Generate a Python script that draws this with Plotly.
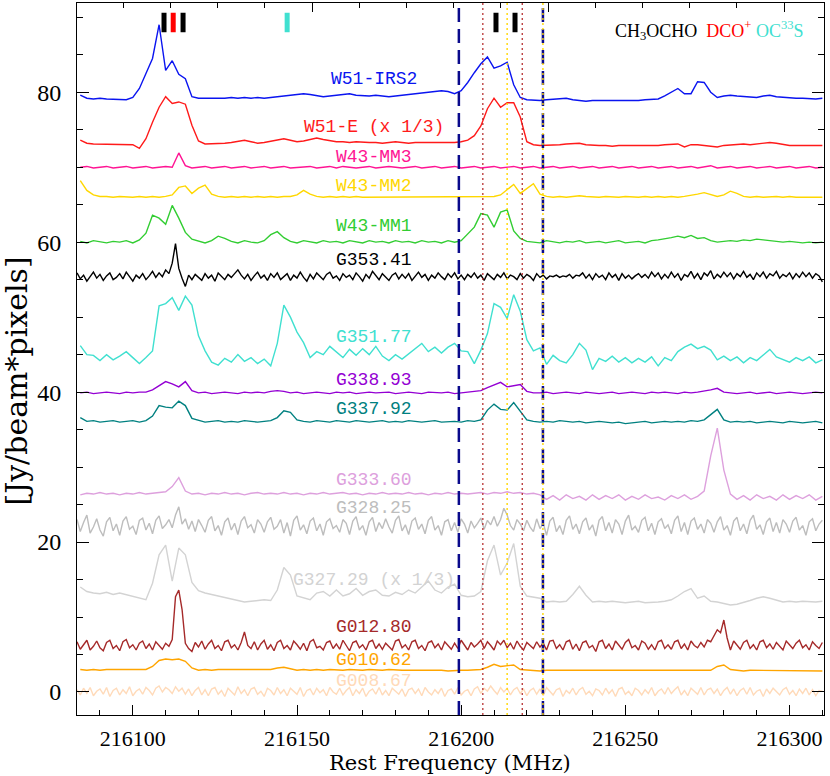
import numpy as np
import plotly.graph_objects as go

# channel frequencies (MHz): 2 MHz sampling for the smooth spectra,
# 1 MHz sampling for the noisy ones
freq = np.arange(216084, 216311, 2)
freq_fine = np.arange(216083, 216311, 1)

names = ["W51-IRS2", "W51-E (x 1/3)", "W43-MM3", "W43-MM2", "W43-MM1", "G353.41",
         "G351.77", "G338.93", "G337.92", "G333.60", "G328.25", "G327.29 (x 1/3)",
         "G012.80", "G010.62", "G008.67"]
colors = ["#0a14f0", "#ff1a1a", "#ff1493", "#ffd700", "#32cd32", "#000000",
          "#40e0d0", "#9400d3", "#008080", "#dda0dd", "#bdbdbd", "#d3d3d3",
          "#a52a2a", "#ffa500", "#ffdab9"]
# level (Jy/beam*pixels) where each source name is written
label_level = [81.8, 75.4, 71.4, 67.5, 62.1, 57.6, 47.3, 41.6, 37.7, 28.3, 24.6, 14.9, 8.7, 4.3, 1.4]

w51_irs2 = [79.6, 79.2, 79.1, 79.2, 79.1, 79.1, 79.0, 79.0, 79.3, 80.5,
            82.5, 84.5, 89.0, 82.9, 84.2, 82.4, 81.8, 79.4, 79.2, 79.2,
            79.1, 79.2, 79.2, 79.3, 79.2, 79.3, 79.2, 79.3, 79.2, 79.3,
            79.4, 79.5, 79.6, 79.7, 79.8, 79.7, 79.5, 79.4, 79.5, 79.6,
            79.8, 79.8, 79.6, 79.5, 79.5, 79.6, 79.5, 79.4, 79.5, 79.6,
            79.7, 79.8, 79.9, 80.1, 80.1, 80.2, 80.1, 79.8, 80.2, 81.3,
            82.6, 83.8, 84.7, 83.2, 83.5, 84.0, 81.0, 79.3, 79.0, 78.9,
            78.9, 79.0, 79.1, 79.1, 79.2, 79.0, 78.9, 78.8, 78.9, 78.9,
            78.8, 78.9, 78.9, 78.8, 78.9, 78.9, 79.0, 79.0, 79.1, 79.5,
            80.0, 80.5, 79.8, 79.8, 81.4, 81.3, 80.0, 79.3, 79.5, 79.6,
            79.5, 79.4, 79.3, 79.3, 79.5, 79.6, 79.4, 79.3, 79.3, 79.2,
            79.2, 79.1, 79.1, 79.2]
w51_e = [73.6, 73.2, 73.1, 73.1, 73.0, 73.0, 73.0, 73.0, 73.0, 72.5,
         73.8, 76.0, 78.0, 79.4, 78.5, 78.7, 78.4, 75.6, 73.5, 73.1,
         73.1, 73.1, 73.2, 73.3, 73.5, 73.6, 73.4, 73.2, 73.3, 73.5,
         73.7, 73.8, 73.6, 73.4, 73.5, 73.7, 73.9, 73.7, 73.5, 73.4,
         73.4, 73.3, 73.4, 73.3, 73.3, 73.3, 73.2, 73.3, 73.4, 73.3,
         73.2, 73.3, 73.3, 73.2, 73.3, 73.2, 73.2, 73.3, 73.4, 73.6,
         74.2, 75.5, 77.8, 79.2, 78.0, 78.6, 78.6, 76.7, 73.4, 73.0,
         72.9, 72.9, 73.0, 73.0, 73.1, 73.2, 73.2, 73.0, 72.9, 72.9,
         72.9, 72.8, 72.9, 72.9, 72.8, 72.8, 72.9, 72.9, 72.9, 73.0,
         73.0, 73.1, 72.7, 73.0, 73.0, 72.9, 72.8, 72.7, 72.9, 73.0,
         73.0, 73.1, 73.0, 73.1, 73.2, 73.3, 73.2, 73.0, 72.9, 72.9,
         72.9, 72.9, 72.8, 72.9]
w43_mm3 = [70.0, 70.1, 69.9, 70.0, 70.1, 69.9, 70.0, 70.1, 69.9, 70.0,
           70.1, 69.9, 70.0, 70.1, 70.0, 71.9, 70.2, 69.9, 70.0, 70.1,
           69.9, 70.0, 70.1, 69.9, 70.0, 70.1, 69.9, 70.0, 70.1, 69.9,
           70.0, 70.1, 69.9, 70.0, 70.0, 70.1, 69.9, 70.0, 70.1, 69.9,
           70.1, 70.0, 69.9, 70.0, 70.1, 69.9, 70.0, 70.1, 70.0, 69.9,
           70.0, 70.1, 69.9, 70.0, 70.1, 69.9, 70.0, 70.1, 69.9, 70.0,
           70.1, 69.9, 70.0, 70.1, 69.9, 70.0, 70.1, 69.9, 70.0, 70.1,
           69.9, 70.0, 70.1, 69.9, 70.0, 70.1, 69.9, 70.0, 70.1, 69.9,
           70.0, 70.1, 69.9, 70.0, 70.1, 69.9, 70.0, 70.1, 69.9, 70.0,
           70.1, 69.9, 70.0, 70.1, 69.9, 70.0, 70.2, 69.9, 70.0, 70.1,
           69.9, 70.0, 70.1, 69.9, 70.0, 70.1, 69.9, 70.0, 70.1, 69.9,
           70.0, 70.1, 69.9, 70.0]
w43_mm2 = [68.2, 66.9, 66.3, 66.1, 66.1, 66.0, 66.1, 66.0, 66.0, 66.1,
           66.0, 66.1, 66.0, 66.1, 66.3, 67.3, 67.5, 66.5, 67.2, 67.6,
           66.4, 66.1, 66.0, 66.1, 66.0, 66.1, 66.0, 66.1, 66.0, 66.1,
           66.0, 66.1, 66.1, 66.3, 66.9, 66.4, 66.1, 66.0, 66.1, 66.0,
           66.1, 66.0, 66.1, 66.0, 66.0, 66.1, 66.0, 66.1, 66.0, 66.1,
           66.0, 66.1, 66.0, 66.1, 66.0, 66.1, 66.0, 66.1, 66.0, 66.0,
           66.0, 66.1, 66.0, 66.1, 66.3, 67.0, 67.7, 66.5, 67.2, 67.8,
           66.4, 66.1, 66.0, 66.1, 66.0, 66.1, 66.2, 66.1, 66.0, 66.0,
           66.1, 66.0, 66.0, 66.1, 66.0, 66.0, 66.1, 66.0, 66.1, 66.0,
           66.1, 66.0, 66.1, 66.2, 66.4, 66.6, 66.3, 66.1, 66.3, 66.8,
           66.5, 66.1, 66.0, 66.1, 66.0, 66.1, 66.1, 66.0, 66.1, 66.0,
           66.0, 66.1, 66.0, 66.0]
w43_mm1 = [60.1, 59.9, 60.2, 60.0, 59.9, 60.1, 60.0, 60.2, 59.9, 60.3,
           61.2, 63.6, 63.2, 62.4, 64.9, 63.2, 61.3, 60.4, 60.1, 59.9,
           60.2, 60.8, 60.5, 60.1, 59.9, 60.2, 60.0, 59.9, 60.2, 61.0,
           61.4, 60.6, 60.1, 59.9, 60.2, 60.0, 59.9, 60.2, 60.0, 60.1,
           59.9, 60.2, 60.0, 59.9, 60.2, 60.0, 60.1, 59.9, 60.2, 60.0,
           60.1, 59.9, 60.2, 60.0, 60.1, 59.9, 60.2, 60.0, 60.2, 61.1,
           62.0, 63.8, 63.6, 62.0, 64.0, 64.3, 61.5, 60.5, 60.1, 60.0,
           59.9, 60.2, 60.0, 59.9, 60.1, 60.0, 60.2, 59.9, 60.0, 60.1,
           59.9, 60.0, 60.2, 59.9, 60.0, 60.1, 59.9, 60.2, 60.3, 60.4,
           60.6, 60.8, 60.6, 60.9, 60.5, 60.6, 60.2, 60.0, 60.1, 60.2,
           60.1, 60.3, 60.2, 60.4, 60.3, 60.2, 60.1, 60.0, 60.1, 60.0,
           59.9, 60.0, 59.9, 60.0]
g353_41 = [55.9, 55.1, 55.6, 54.8, 55.4, 56.0, 55.2, 55.7, 54.9, 55.5, 55.9, 55.0, 55.3, 55.8, 55.1, 56.0, 55.4, 54.8, 55.6, 55.2,
           55.8, 55.0, 55.5, 56.1, 55.3, 55.9, 55.4, 56.3, 55.8, 57.2, 59.8, 56.5, 55.2, 54.1, 55.6, 55.0, 55.7, 55.3, 54.9, 55.8,
           55.2, 55.6, 54.8, 55.9, 55.4, 55.0, 55.7, 55.3, 55.8, 56.3, 55.6, 55.1, 55.7, 54.9, 55.5, 56.0, 55.2, 55.6, 54.9, 55.8,
           55.3, 55.9, 55.0, 55.4, 55.8, 54.9, 55.6, 55.2, 56.0, 55.3, 54.8, 55.7, 55.1, 55.9, 55.4, 55.0, 55.7, 56.0, 55.2, 55.5,
           54.9, 55.8, 55.3, 55.6, 55.0, 55.9, 55.4, 54.8, 55.7, 55.2, 56.1, 55.5, 55.0, 55.8, 55.3, 54.9, 55.6, 55.9, 55.1, 55.7,
           55.2, 55.8, 54.9, 55.5, 56.0, 55.3, 55.7, 54.9, 55.6, 55.2, 55.9, 55.4, 55.0, 55.8, 55.3, 55.9, 55.1, 55.6, 55.0, 55.7,
           55.3, 55.9, 55.2, 55.6, 54.9, 55.8, 55.4, 55.0, 55.7, 55.3, 55.9, 55.1, 55.6, 55.4, 55.0, 55.8, 55.2, 55.7, 55.4, 54.9,
           55.8, 55.3, 55.6, 55.1, 55.5, 55.4, 55.6, 55.3, 55.5, 55.4, 55.7, 55.2, 55.6, 55.5, 55.9, 55.2, 55.7, 55.0, 55.8, 55.3,
           55.6, 55.0, 55.9, 55.3, 55.7, 54.9, 55.8, 55.2, 55.6, 55.1, 55.5, 55.8, 55.3, 55.7, 55.2, 56.0, 55.4, 55.9, 55.1, 55.7,
           55.2, 56.0, 55.3, 55.8, 54.9, 55.7, 55.4, 56.1, 55.2, 55.8, 55.0, 55.9, 55.5, 56.2, 55.1, 55.7, 55.3, 56.0, 55.4, 55.9,
           55.1, 55.8, 55.4, 56.1, 55.3, 55.7, 55.0, 55.9, 55.4, 56.0, 55.2, 55.8, 55.5, 56.1, 55.2, 55.7, 55.4, 55.9, 55.1, 55.8,
           55.3, 56.0, 55.4, 55.9, 55.2, 55.8, 55.5, 54.7]
g351_77 = [46.2, 45.0, 44.9, 44.2, 45.0, 44.3, 44.8, 45.4, 44.6, 43.8,
           44.6, 45.5, 51.5, 51.8, 52.6, 50.9, 52.8, 51.6, 47.5, 45.5,
           44.0, 43.6, 44.5, 44.0, 45.0, 44.1, 44.6, 43.8, 44.4, 43.5,
           46.5, 51.6, 50.0, 48.0, 46.6, 44.6, 45.4, 45.0, 46.1, 45.3,
           44.6, 45.7, 44.9, 45.8, 45.0, 46.1, 44.8, 44.2, 45.0, 44.4,
           45.1, 45.8, 46.5, 45.4, 46.0, 45.2, 46.0, 46.5, 45.5, 45.4,
           43.8, 45.6, 47.8, 51.8, 51.3, 49.8, 53.0, 50.8, 47.0, 45.5,
           45.9, 43.7, 44.9, 44.2, 43.9, 45.0, 46.5, 45.6, 43.0, 44.5,
           44.1, 44.8, 44.0, 44.6, 43.9, 44.5, 44.0, 44.7, 43.5, 44.6,
           44.2, 45.4, 46.0, 46.4, 45.8, 46.1, 45.6, 44.3, 44.8, 44.2,
           44.7, 43.9, 44.6, 44.2, 45.0, 45.7, 44.7, 44.3, 44.0, 44.6,
           44.2, 44.7, 43.9, 44.3]
g338_93 = [39.9, 40.0, 39.8, 39.9, 40.0, 39.9, 39.8, 40.0, 39.9, 40.0,
           40.0, 40.3, 40.8, 41.4, 41.1, 40.7, 41.4, 40.2, 39.9, 40.0,
           39.8, 39.9, 40.0, 39.9, 39.8, 40.0, 39.9, 40.0, 39.9, 40.1,
           40.2, 40.1, 39.9, 40.0, 39.8, 39.9, 40.0, 39.9, 39.8, 40.0,
           39.9, 40.0, 39.8, 39.9, 40.0, 39.9, 39.9, 40.0, 39.8, 39.9,
           40.0, 39.9, 39.8, 40.0, 39.9, 39.9, 40.0, 39.8, 39.9, 40.0,
           40.0, 40.2, 40.6, 41.0, 41.3, 40.7, 40.9, 41.0, 40.1, 39.9,
           39.9, 40.0, 39.8, 39.9, 40.0, 39.9, 39.8, 40.0, 39.9, 39.8,
           39.9, 40.0, 39.8, 39.9, 40.0, 39.9, 39.8, 40.0, 39.9, 40.0,
           39.9, 39.8, 40.0, 39.9, 40.0, 40.1, 40.3, 40.5, 40.0, 39.9,
           39.8, 39.9, 40.0, 39.8, 39.9, 40.0, 39.8, 39.9, 40.0, 39.9,
           39.8, 39.9, 40.0, 39.9]
g337_92 = [36.6, 36.1, 36.2, 36.0, 36.1, 36.2, 36.0, 36.1, 36.2, 36.0,
           36.2, 36.8, 38.2, 38.0, 37.9, 38.8, 38.2, 36.5, 36.2, 36.0,
           36.1, 36.2, 36.0, 36.1, 36.0, 36.2, 36.1, 36.0, 36.1, 36.2,
           36.6, 37.5, 37.3, 36.3, 36.1, 36.0, 36.2, 36.1, 36.0, 36.2,
           36.1, 36.0, 36.2, 36.1, 36.0, 36.1, 36.2, 36.0, 36.1, 36.0,
           36.2, 36.1, 36.0, 36.1, 36.2, 36.0, 36.1, 36.1, 36.0, 36.2,
           36.1, 36.3, 37.6, 38.4, 37.7, 37.6, 38.6, 37.4, 36.3, 36.1,
           36.0, 36.1, 36.0, 36.2, 36.1, 36.0, 36.1, 35.9, 36.0, 36.1,
           36.0, 35.9, 36.0, 35.8, 35.9, 36.0, 36.1, 35.9, 36.0, 36.1,
           36.0, 36.1, 36.0, 36.2, 36.1, 36.3, 37.0, 37.7, 36.3, 36.0,
           36.1, 36.0, 36.1, 35.9, 36.0, 36.1, 36.0, 35.9, 36.1, 36.0,
           35.9, 36.0, 36.1, 35.9]
g333_60 = [26.3, 26.5, 26.4, 26.6, 26.4, 26.5, 26.3, 26.5, 26.4, 26.6,
           26.4, 26.5, 26.5, 26.7, 27.4, 28.6, 26.8, 26.4, 26.5, 26.3,
           26.5, 26.4, 26.6, 26.4, 26.5, 26.3, 26.5, 26.6, 26.4, 26.5,
           26.4, 26.6, 26.4, 26.5, 26.3, 26.5, 26.4, 26.6, 26.4, 26.5,
           26.6, 26.4, 26.5, 26.3, 26.5, 26.4, 26.6, 26.4, 26.5, 26.4,
           26.6, 26.4, 26.5, 26.3, 26.5, 26.4, 26.6, 26.4, 26.5, 26.4,
           26.5, 26.6, 26.4, 26.6, 26.5, 26.7, 26.5, 26.6, 26.4, 26.5,
           26.3, 25.7, 26.2, 25.6, 26.3, 25.8, 26.1, 25.6, 26.3, 25.7,
           26.2, 25.8, 26.3, 25.6, 26.1, 25.7, 26.3, 25.8, 26.0, 25.6,
           26.2, 25.8, 26.3, 25.7, 26.1, 26.8, 31.5, 35.2, 29.6, 26.4,
           25.7, 26.2, 25.6, 26.3, 25.8, 26.1, 25.6, 26.3, 25.7, 26.2,
           25.8, 26.3, 25.6, 26.1]
g328_25 = [23.0, 21.4, 22.6, 23.6, 21.2, 22.0, 23.1, 21.6, 20.8, 22.7, 23.3, 21.5, 22.4, 20.9, 22.8, 23.4, 21.7, 22.1, 21.0, 22.9,
           23.2, 21.6, 22.5, 21.1, 22.9, 23.5, 21.8, 22.3, 23.0, 21.9, 23.6, 24.7, 22.4, 23.1, 21.7, 22.8, 21.4, 23.0, 22.2, 21.3,
           22.9, 23.4, 21.5, 22.2, 20.9, 22.7, 23.2, 21.6, 22.5, 21.0, 22.8, 23.4, 21.9, 22.3, 21.2, 23.0, 22.4, 21.3, 22.7, 23.3,
           21.7, 22.1, 23.0, 21.2, 22.6, 20.8, 22.9, 23.5, 21.6, 22.3, 21.1, 22.8, 23.2, 21.5, 22.4, 20.9, 22.7, 23.1, 21.8, 22.2,
           21.3, 23.0, 22.5, 21.0, 22.8, 23.4, 21.6, 22.2, 20.9, 22.7, 23.3, 21.4, 22.6, 21.8, 23.1, 22.0, 21.2, 22.9, 23.5, 21.5,
           22.3, 21.0, 22.8, 23.2, 21.7, 22.4, 21.1, 22.9, 23.4, 21.6, 22.2, 20.9, 22.7, 23.0, 21.5, 22.6, 21.3, 23.1, 22.4, 21.2,
           22.8, 21.9, 22.5, 23.2, 21.7, 22.9, 22.3, 23.4, 22.1, 23.0, 24.5, 23.6, 22.2, 21.6, 23.0, 22.4, 21.5, 22.9, 22.0, 21.4,
           23.1, 21.8, 22.5, 20.9, 22.8, 23.3, 21.4, 22.2, 21.0, 22.9, 23.5, 21.7, 22.4, 21.1, 22.7, 23.2, 21.6, 22.3, 20.8, 22.9,
           23.4, 21.5, 22.6, 21.2, 23.0, 22.4, 21.0, 22.8, 23.6, 21.6, 22.1, 21.3, 22.9, 23.3, 21.5, 22.5, 21.0, 22.7, 23.1, 21.8,
           22.3, 21.1, 22.9, 23.5, 21.4, 22.6, 21.0, 22.8, 23.2, 21.7, 22.4, 21.2, 23.0, 22.5, 21.3, 22.7, 23.4, 21.6, 22.2, 20.9,
           22.8, 23.3, 21.5, 22.4, 21.1, 22.9, 23.6, 21.7, 22.3, 21.0, 22.7, 23.2, 21.4, 22.6, 21.2, 23.0, 22.4, 21.3, 22.8, 23.3,
           21.6, 22.2, 20.9, 22.7, 23.1, 21.5, 22.4, 22.9]
g327_29 = [14.0, 13.4, 13.2, 13.1, 13.3, 13.0, 13.2, 13.0, 12.8, 12.6,
           12.3, 14.5, 18.3, 19.6, 14.8, 19.2, 18.3, 14.6, 13.5, 13.2,
           13.0, 12.7, 12.5, 12.4, 12.2, 12.0, 12.1, 12.2, 12.3, 12.2,
           13.6, 16.6, 15.6, 12.8, 12.5, 12.3, 13.2, 13.4, 12.8, 13.6,
           12.8, 13.1, 13.8, 12.9, 13.4, 13.6, 12.9, 12.8, 13.3, 13.0,
           13.6, 13.2, 14.0, 14.8, 13.6, 13.2, 14.0, 14.4, 12.9, 12.7,
           12.8, 13.4, 17.5, 19.6, 15.6, 17.2, 19.8, 14.1, 12.8, 12.7,
           12.5, 12.0, 12.1, 12.0, 12.1, 13.0, 14.1, 12.9, 12.0, 12.1,
           12.0, 12.1, 12.0, 11.9, 12.0, 12.1, 11.9, 11.9, 12.0, 12.1,
           12.3, 12.8, 13.4, 13.8, 12.5, 12.8, 12.1, 12.0, 11.8, 11.6,
           11.7, 11.9, 12.2, 12.5, 12.7, 12.5, 12.2, 12.0, 12.1, 12.0,
           12.1, 12.0, 12.0, 12.1]
g012_80 = [6.7, 5.7, 6.3, 6.9, 5.6, 6.1, 6.8, 5.9, 5.5, 6.6, 6.9, 5.8, 6.2, 5.5, 6.7, 7.0, 5.9, 6.3, 5.6, 6.5,
           6.8, 5.8, 6.4, 5.6, 6.7, 6.2, 5.7, 6.5, 6.1, 7.0, 12.7, 13.6, 11.0, 6.5, 5.8, 5.4, 6.6, 6.0, 6.8, 5.7,
           6.4, 6.9, 5.8, 6.2, 5.5, 6.7, 6.9, 5.9, 6.3, 5.6, 6.6, 8.0, 6.2, 5.8, 6.7, 5.6, 6.4, 6.9, 5.7, 6.3,
           5.5, 6.6, 6.9, 5.8, 6.2, 5.6, 6.8, 6.3, 5.7, 6.5, 5.5, 6.7, 7.0, 5.9, 6.1, 5.6, 6.6, 6.8, 5.8, 6.4,
           5.7, 6.9, 6.2, 5.5, 6.6, 6.8, 5.9, 6.3, 5.6, 6.7, 6.9, 5.8, 6.4, 5.7, 6.5, 6.1, 5.6, 6.8, 7.0, 5.9,
           6.3, 5.6, 6.7, 6.9, 5.8, 6.2, 5.5, 6.6, 6.8, 5.9, 6.4, 5.6, 6.7, 6.2, 5.7, 6.5, 5.8, 6.9, 6.3, 5.6,
           6.6, 6.0, 6.4, 6.9, 5.8, 6.7, 6.2, 5.6, 6.8, 6.3, 6.9, 5.9, 6.5, 5.7, 6.8, 6.1, 5.6, 6.6, 6.2, 5.8,
           6.7, 6.0, 6.5, 5.6, 6.8, 6.9, 5.8, 6.3, 5.6, 6.7, 6.9, 5.7, 6.4, 5.5, 6.6, 6.8, 5.9, 6.2, 5.4, 6.7,
           6.9, 5.8, 6.4, 5.6, 6.8, 6.3, 5.7, 6.6, 7.0, 5.9, 6.2, 5.6, 6.8, 6.5, 5.7, 6.3, 5.6, 6.7, 6.9, 5.8,
           6.3, 5.7, 6.7, 6.9, 5.8, 6.4, 5.6, 6.8, 6.2, 5.9, 6.6, 6.0, 6.9, 6.7, 7.6, 8.3, 7.9, 9.6, 7.2, 5.6,
           6.8, 6.2, 5.7, 6.6, 6.9, 5.8, 6.3, 5.6, 6.7, 6.9, 5.9, 6.4, 5.7, 6.6, 6.1, 5.6, 6.8, 6.3, 5.8, 6.5,
           6.9, 5.9, 6.3, 5.6, 6.7, 6.2, 5.8, 6.6]
g010_62 = [3.0, 2.9, 3.0, 2.9, 3.0, 3.0, 2.9, 3.0, 3.0, 2.9,
           3.0, 3.4, 4.2, 4.4, 4.3, 4.4, 4.1, 3.2, 2.9, 3.0,
           2.9, 3.0, 3.0, 2.9, 3.0, 2.9, 3.0, 3.0, 2.9, 3.0,
           3.2, 3.3, 3.1, 2.9, 3.0, 2.9, 3.0, 2.9, 3.0, 2.9,
           2.9, 3.0, 2.9, 2.9, 3.0, 2.9, 2.9, 3.0, 2.9, 2.9,
           2.9, 2.9, 3.0, 2.9, 2.9, 2.9, 2.8, 2.9, 2.9, 2.9,
           2.9, 3.0, 3.3, 3.7, 3.4, 3.5, 3.6, 3.0, 2.9, 2.9,
           2.8, 2.9, 2.9, 2.8, 2.9, 2.9, 2.8, 2.9, 2.9, 2.8,
           2.8, 2.8, 2.9, 2.8, 2.8, 2.9, 2.8, 2.8, 2.9, 2.8,
           2.9, 2.9, 2.8, 2.9, 2.9, 2.8, 2.9, 3.4, 3.6, 3.0,
           2.9, 2.8, 2.9, 2.9, 2.8, 2.9, 2.9, 2.8, 2.9, 2.8,
           2.9, 2.8, 2.9, 2.8]
g008_67 = [0.3, -0.4, 0.5, -0.2, 0.6, -0.5, 0.1, 0.4, -0.3, 0.6, -0.6, 0.2, 0.5, -0.4, 0.3, -0.2, 0.7, -0.5, 0.1, 0.4,
           -0.3, 0.6, 0.2, -0.4, 0.5, 0.8, 0.0, 0.6, 0.3, -0.2, 0.7, 0.1, 0.5, -0.3, 0.4, -0.5, 0.2, 0.6, -0.4, 0.3,
           -0.5, 0.4, 0.6, -0.3, 0.2, -0.6, 0.5, 0.1, -0.4, 0.7, -0.2, 0.3, -0.5, 0.4, 0.6, -0.3, 0.1, -0.6, 0.5, 0.2,
           -0.4, 0.6, -0.2, 0.3, -0.5, 0.5, 0.1, -0.3, 0.6, -0.6, 0.2, 0.4, -0.4, 0.5, -0.1, 0.3, -0.5, 0.6, 0.0, -0.3,
           0.5, -0.4, 0.2, 0.6, -0.5, 0.3, -0.2, 0.5, -0.6, 0.1, 0.4, -0.3, 0.6, -0.4, 0.2, -0.5, 0.5, 0.1, -0.3, 0.4,
           -0.6, 0.3, 0.5, -0.2, 0.4, -0.5, 0.6, 0.0, -0.4, 0.3, -0.2, 0.5, -0.6, 0.2, 0.4, -0.3, 0.6, -0.4, 0.1, 0.3,
           -0.5, 0.4, 0.7, -0.2, 0.5, 0.1, 0.8, 0.2, -0.3, 0.6, 0.0, 0.5, -0.4, 0.3, 0.6, -0.2, 0.4, -0.5, 0.2, 0.5,
           -0.3, 0.4, -0.5, 0.6, 0.1, -0.4, 0.3, 0.5, -0.6, 0.2, -0.2, 0.5, -0.4, 0.3, 0.6, -0.3, 0.1, -0.5, 0.4, 0.2,
           -0.4, 0.5, -0.2, 0.3, -0.6, 0.4, 0.6, -0.3, 0.1, -0.5, 0.5, 0.2, -0.4, 0.3, -0.2, 0.6, -0.5, 0.1, 0.4, -0.3,
           0.6, -0.2, 0.3, 0.7, -0.4, 0.2, -0.5, 0.5, 0.1, -0.3, 0.6, -0.4, 0.3, 0.5, -0.2, 0.4, -0.5, 0.2, 0.6, -0.3,
           0.4, -0.5, 0.2, 0.5, -0.3, 0.6, -0.4, 0.1, 0.3, -0.6, 0.4, -0.2, 0.5, 0.0, -0.4, 0.3, 0.6, -0.3, 0.2, -0.5,
           0.4, -0.2, 0.5, -0.4, 0.3, -0.5, 0.2, 0.1]

spectra = [w51_irs2, w51_e, w43_mm3, w43_mm2, w43_mm1, g353_41, g351_77, g338_93,
           g337_92, g333_60, g328_25, g327_29, g012_80, g010_62, g008_67]

# line rest frequencies marked at the top
line_freq = [216109.5, 216112.3, 216115.3, 216147.0, 216210.6, 216216.4]
line_color = ["black", "red", "black", "#40e0d0", "black", "black"]

# velocity-range markers
blue_lines = [216199.3, 216224.9]
red_lines = [216206.6, 216218.6]
gold_lines = [216214.0, 216224.9]

serif = "DejaVu Serif"
tickserif = "Liberation Serif"
mono = "Liberation Mono"

fig = go.Figure()

for name, col, spec in zip(names, colors, spectra):
    x = freq_fine if len(spec) == len(freq_fine) else freq
    fig.add_trace(go.Scatter(x=x, y=spec, mode="lines", name=name,
                             line=dict(color=col, width=1.4), showlegend=False))

for f, c in zip(line_freq, line_color):
    fig.add_trace(go.Scatter(x=[f, f], y=[88.0, 90.6], mode="lines",
                             line=dict(color=c, width=5), showlegend=False, hoverinfo="skip"))

# dummy trace so that the top (velocity) axis gets drawn
fig.add_trace(go.Scatter(x=[], y=[], xaxis="x2", yaxis="y", showlegend=False))

for f in blue_lines:
    fig.add_shape(type="line", xref="x", yref="paper", x0=f, x1=f, y0=0, y1=1,
                  line=dict(color="#0a0a8c", width=2.5, dash="14px,7px"))
for f in red_lines:
    fig.add_shape(type="line", xref="x", yref="paper", x0=f, x1=f, y0=0, y1=1,
                  line=dict(color="#b22222", width=1.2, dash="2px,3px"))
for f in gold_lines:
    fig.add_shape(type="line", xref="x", yref="paper", x0=f, x1=f, y0=0, y1=1,
                  line=dict(color="#ffd700", width=1.4, dash="2px,3px"))

for name, col, lev in zip(names, colors, label_level):
    fig.add_annotation(x=216173.5, y=lev, xref="x", yref="y", text=name, showarrow=False,
                       font=dict(family=mono, size=18, color=col))

fig.add_annotation(
    x=0.7175, y=0.962, xref="paper", yref="paper", xanchor="left", yanchor="middle",
    showarrow=False,
    text=("<span style='color:black'>CH<sub>3</sub>OCHO</span>&nbsp; "
          "<span style='color:red'>DCO<sup>+</sup></span> "
          "<span style='color:#40e0d0'>OC<sup>33</sup>S</span>"),
    font=dict(family="Liberation Serif", size=18))

fig.add_annotation(x=0.499, y=-0.0674, xref="paper", yref="paper", xanchor="center",
                   yanchor="middle", showarrow=False, text="Rest Frequency (MHz)",
                   font=dict(family=serif, size=21, color="black"))
fig.add_annotation(x=-0.081, y=0.469, xref="paper", yref="paper", xanchor="center",
                   yanchor="middle", showarrow=False, textangle=-90, text="[Jy/beam*pixels]",
                   font=dict(family=serif, size=30, color="black"))

fig.update_layout(
    width=830, height=776, autosize=False,
    margin=dict(l=77, r=6, t=3, b=61),
    plot_bgcolor="white", paper_bgcolor="white",
    xaxis=dict(range=[216083, 216310.5], showline=True, linecolor="black", linewidth=1,
               mirror=True, ticks="inside", tick0=216100, dtick=50, ticklen=10,
               tickcolor="black", tickformat="d", showgrid=False, zeroline=False,
               automargin=False,
               minor=dict(dtick=10, tick0=216100, ticklen=5, ticks="inside", tickcolor="black"),
               tickfont=dict(family=tickserif, size=22, color="black"), ticklabelstandoff=4),
    xaxis2=dict(overlaying="x", side="top", range=[-99.6, 216.9], ticks="inside",
                tick0=0, dtick=100, ticklen=9, tickcolor="black", showticklabels=False,
                showgrid=False, zeroline=False, showline=False, automargin=False,
                minor=dict(dtick=20, ticklen=5, ticks="inside", tickcolor="black")),
    yaxis=dict(range=[-3.07, 91.9], showline=True, linecolor="black", linewidth=1,
               mirror="ticks", ticks="inside", tick0=0, dtick=20, ticklen=12,
               tickcolor="black", showgrid=False, zeroline=False, automargin=False,
               minor=dict(dtick=5, ticklen=6, ticks="inside", tickcolor="black"),
               tickfont=dict(family=tickserif, size=24, color="black"), ticklabelstandoff=10),
)

# the page's default body margin would shift the figure by 8 px
fig.write_html("out.html", config={"displayModeBar": False},
               post_script="document.body.style.margin='0';")
